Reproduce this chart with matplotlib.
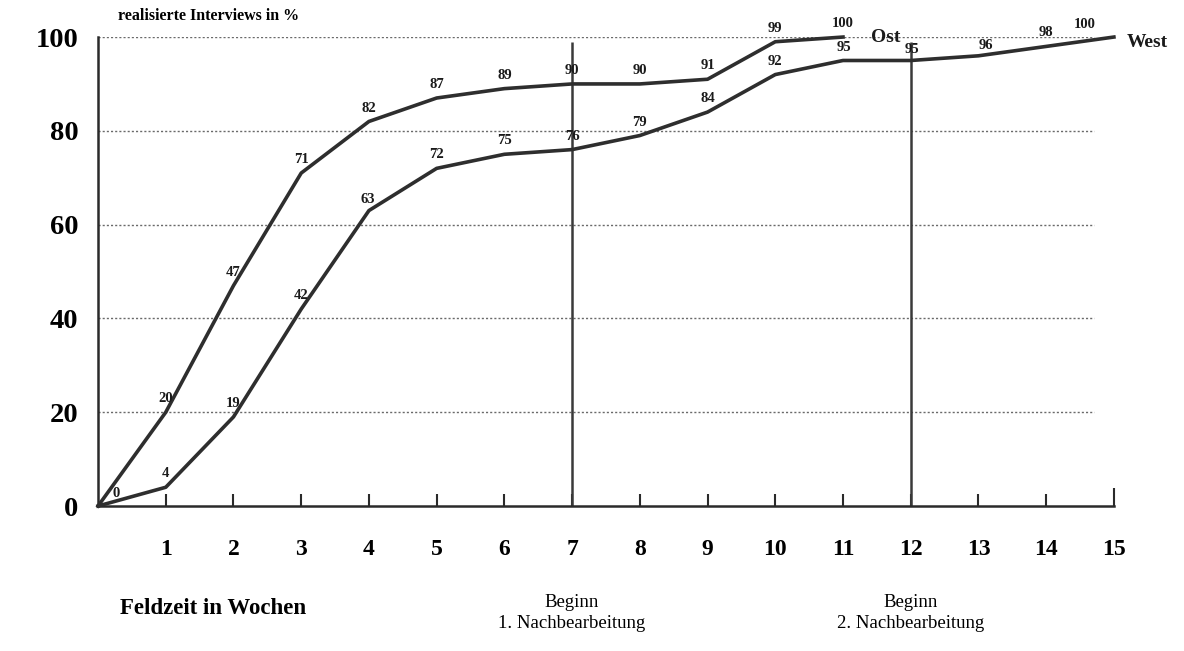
import matplotlib
matplotlib.use("Agg")
import matplotlib.pyplot as plt

plt.rcParams['font.family'] = ['Liberation Serif', 'DejaVu Serif']

weeks_ost = [0, 1, 2, 3, 4, 5, 6, 7, 8, 9, 10, 11]
ost = [0, 20, 47, 71, 82, 87, 89, 90, 90, 91, 99, 100]
weeks_west = [0, 1, 2, 3, 4, 5, 6, 7, 8, 9, 10, 11, 12, 13, 14, 15]
west = [0, 4, 19, 42, 63, 72, 75, 76, 79, 84, 92, 95, 95, 96, 98, 100]
x_ticks = list(range(1, 16))
y_ticks = [0, 20, 40, 60, 80, 100]
grid_levels = [20, 40, 60, 80, 100]
phase_weeks = [7, 12]
phase_labels = ["Beginn\n1. Nachbearbeitung", "Beginn\n2. Nachbearbeitung"]

fig = plt.figure(figsize=(11.84, 6.51), dpi=100)
ax = fig.add_axes([0.0828, 0.2227, 0.858, 0.7204])
ax.set_xlim(0, 15)
ax.set_ylim(0, 100)

line_col = '#2e2e2e'
for lv in grid_levels:
    ax.hlines(lv, 0, 14.7, colors='#6a6a6a', linestyles=(0, (1.5, 1.5)), linewidth=1.0, zorder=1)

for w in phase_weeks:
    ax.vlines(w, 0, 99, colors='#3a3a3a', linewidth=1.8, zorder=2)

ax.plot(weeks_ost, ost, color=line_col, linewidth=2.6, solid_joinstyle='round', zorder=3, clip_on=False)
ax.plot(weeks_west, west, color=line_col, linewidth=2.6, solid_joinstyle='round', zorder=3, clip_on=False)

lab_kw = dict(fontsize=10.5, fontweight='bold', ha='center', va='bottom', color='#1a1a1a', zorder=4)
# Ost labels
for i, (x, y) in enumerate(zip(weeks_ost, ost)):
    if i == 0:
        continue
    ax.annotate(str(y), (x, y), xytext=(0, 5), textcoords='offset points', **lab_kw)
# West labels
west_offsets = {0: (13, 4), 4: (-1, 3), 11: (1, 5), 12: (1, 3), 13: (5, 3), 15: (-21, 4)}
for x, y in zip(weeks_west, west):
    dx, dy = west_offsets.get(x, (0, 5))
    ax.annotate(str(y), (x, y), xytext=(dx, dy), textcoords='offset points', **lab_kw)

ax.annotate("Ost", (weeks_ost[-1], ost[-1]), xytext=(20, 0), textcoords='offset points',
            fontsize=14, fontweight='bold', ha='left', va='center', color='#1a1a1a')
ax.annotate("West", (weeks_west[-1], west[-1]), xytext=(9, -4), textcoords='offset points',
            fontsize=14, fontweight='bold', ha='left', va='center', color='#1a1a1a')

for s in ['top', 'right']:
    ax.spines[s].set_visible(False)
for s in ['left', 'bottom']:
    ax.spines[s].set_linewidth(1.8)
    ax.spines[s].set_color('#2a2a2a')

ax.set_xticks(x_ticks)
ax.set_xticklabels([str(t) for t in x_ticks], fontsize=17, fontweight='bold')
ax.set_yticks(y_ticks)
ax.set_yticklabels([str(t) for t in y_ticks], fontsize=20.5, fontweight='bold')
ax.tick_params(axis='x', direction='in', length=9, width=1.5, pad=24, color='#2a2a2a')
ax.tick_params(axis='y', direction='in', length=0, pad=14)
ax.xaxis.get_major_ticks()[-1].tick1line.set_markersize(13)

fig.text(118 / 1184, 1 - 16 / 651, "realisierte Interviews in %", fontsize=11.5, fontweight='bold',
         ha='left', va='center')
fig.text(120 / 1184, 1 - 608 / 651, "Feldzeit in Wochen", fontsize=16.5, fontweight='bold',
         ha='left', va='center')
for w, t in zip(phase_weeks, phase_labels):
    ax.annotate(t, (w, 0), xycoords='data', xytext=(0, -63), textcoords='offset points',
                fontsize=13.5, ha='center', va='top', linespacing=1.35, annotation_clip=False)

fig.savefig("out.png", dpi=100)
